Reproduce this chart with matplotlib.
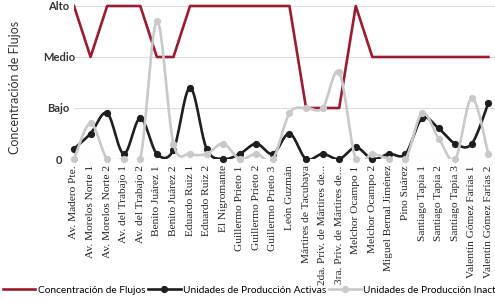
import numpy as np
import matplotlib
matplotlib.use("Agg")
import matplotlib.pyplot as plt
from matplotlib.lines import Line2D

# categories (street segments)
calles = ["Av. Madero Pte.", "Av. Morelos Norte 1", "Av. Morelos Norte 2",
          "Av. del Trabajo 1", "Av. del Trabajo 2", "Benito Juárez 1",
          "Benito Juárez 2", "Eduardo Ruiz 1", "Eduardo Ruiz 2",
          "El Nigromante", "Guillermo Prieto 1", "Guillermo Prieto 2",
          "Guillermo Prieto 3", "León Guzmán", "Mártires de Tacubaya",
          "2da. Priv. de Mártires de...", "3ra. Priv. de Mártires de...",
          "Melchor Ocampo 1", "Melchor Ocampo 2", "Miguel Bernal Jiménez",
          "Pino Suárez", "Santiago Tapia 1", "Santiago Tapia 2",
          "Santiago Tapia 3", "Valentín Gómez Farías 1",
          "Valentín Gómez Farías 2"]

# 0 = nada, 1 = Bajo, 2 = Medio, 3 = Alto
flujos = [3, 2, 3, 3, 3, 2, 2, 3, 3, 3, 3, 3, 3, 3, 1, 1, 1, 3,
          2, 2, 2, 2, 2, 2, 2, 2]
activas = [0.2, 0.5, 0.9, 0.1, 0.8, 0.1, 0.18, 1.4, 0.2, 0.0, 0.1, 0.3,
           0.1, 0.5, 0.0, 0.1, 0.0, 0.23, 0.0, 0.1, 0.1, 0.8, 0.6, 0.3,
           0.3, 1.1]
inactivas = [0.0, 0.7, 0.0, 0.0, 0.0, 2.7, 0.3, 0.1, 0.1, 0.3, 0.0, 0.1,
             0.0, 0.9, 1.0, 1.0, 1.7, 0.0, 0.1, 0.0, 0.0, 0.9, 0.4, 0.0,
             1.2, 0.1]

ytick_vals = [0, 1, 2, 3]
ytick_txt = ["0", "Bajo", "Medio", "Alto"]

rojo = "#9b1b30"
negro = "#1f1f1f"
gris = "#c9c9c9"


def suave(xs, ys, n=16):
    # smoothed line like the spreadsheet "smooth line" option
    P = np.column_stack([xs, ys]).astype(float)
    out = []
    t = np.linspace(0, 1, n)[:, None]
    for i in range(len(P) - 1):
        p0 = P[i - 1] if i > 0 else P[i]
        p3 = P[i + 2] if i + 2 < len(P) else P[i + 1]
        c1 = P[i] + (P[i + 1] - p0) / 6
        c2 = P[i + 1] - (p3 - P[i]) / 6
        seg = ((1 - t) ** 3) * P[i] + 3 * ((1 - t) ** 2) * t * c1 \
            + 3 * (1 - t) * t ** 2 * c2 + t ** 3 * P[i + 1]
        out.append(seg if i == 0 else seg[1:])
    out = np.vstack(out)
    return out[:, 0], out[:, 1]


fig = plt.figure(figsize=(4.95, 3.05), dpi=100)
unit = 51 / 305
ax = fig.add_axes([74 / 495, 1 - 159 / 305, 421 / 495, 3.12 * unit])

x = np.arange(len(calles))
ax.plot(x, flujos, color=rojo, lw=1.9, zorder=2)
sx, sy = suave(x, activas)
ax.plot(sx, sy, color=negro, lw=1.9, zorder=3)
ax.plot(x, activas, ls="none", marker="o", ms=4.2, color=negro, zorder=3,
        clip_on=False)
sx, sy = suave(x, inactivas)
ax.plot(sx, sy, color=gris, lw=1.9, zorder=4)
ax.plot(x, inactivas, ls="none", marker="o", ms=4.2, color=gris, zorder=4,
        clip_on=False)

ax.set_xlim(0, 25.4)
ax.set_ylim(0, 3.12)
ax.set_yticks(ytick_vals)
ax.set_yticklabels(ytick_txt, fontsize=8, fontweight="bold",
                   family="Lato", color="#333333", ha="center")
ax.set_xticks(x)
ax.set_xticklabels(calles, rotation=90, fontsize=8.2,
                   family="Liberation Serif", color="#222222")
ax.tick_params(length=0)
ax.tick_params(axis="x", pad=4.5)
ax.tick_params(axis="y", pad=11)
ax.grid(axis="y", color="#dcdcdc", lw=0.8)
for s in ax.spines.values():
    s.set_visible(False)

fig.text(15 / 495, 1 - 87 / 305, "Concentración de Flujos", rotation=90,
         ha="center", va="center", fontsize=9, family="Lato", color="#333333")

handles = [Line2D([], [], color=rojo, lw=1.9),
           Line2D([], [], color=negro, lw=1.9, marker="o", ms=4.2),
           Line2D([], [], color=gris, lw=1.9, marker="o", ms=4.2)]
labels = ["Concentración de Flujos", "Unidades de Producción Activas",
          "Unidades de Producción Inactivas"]
fig.legend(handles, labels, loc="center left", ncol=3,
           bbox_to_anchor=(0.0, 15 / 305), frameon=False,
           prop={"family": "Lato", "size": 7.3}, handlelength=3.2,
           handletextpad=0.2, columnspacing=0.3, borderpad=0,
           borderaxespad=0.3)

fig.savefig("out.png", dpi=100)
